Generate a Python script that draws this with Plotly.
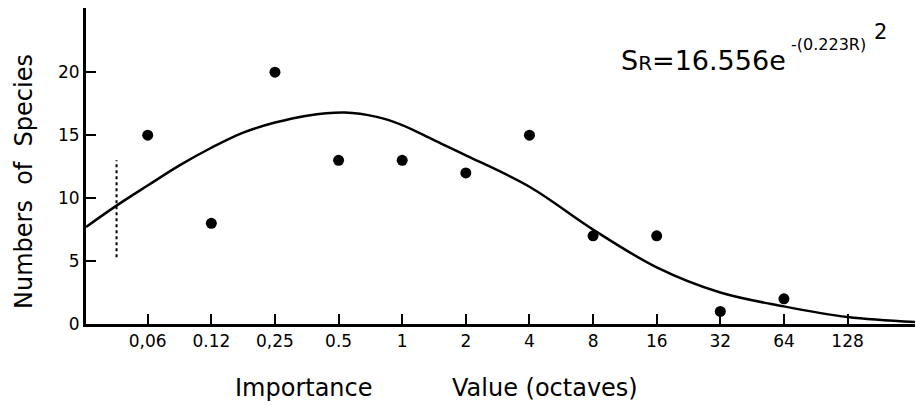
import plotly.graph_objects as go

# ---- data ----
octave_labels = ["0,06", "0.12", "0,25", "0.5", "1", "2", "4", "8", "16", "32", "64", "128"]
species_counts = [15, 8, 20, 13, 13, 12, 15, 7, 7, 1, 2]

# fitted curve (x in octave positions, 0 = "0,06")
curve_x = [-0.97, -0.49, 0, 0.5, 1, 1.5, 2, 2.5, 3.1, 3.6, 4, 4.5, 5, 6, 7, 8, 9, 10, 11, 12.06]
curve_y = [7.7, 9.4, 11.0, 12.6, 14.0, 15.2, 16.0, 16.55, 16.8, 16.45, 15.8, 14.6, 13.4, 10.9, 7.5, 4.5, 2.5, 1.4, 0.55, 0.15]

# vertical dashed marker
dash_x = [-0.49, -0.49]
dash_y = [5.3, 13.0]

y_ticks = [0, 5, 10, 15, 20]

FONT = "DejaVu Sans"
W, H = 916, 405
L, R, T, B = 86, 1, 8, 81
PW, PH = W - L - R, H - T - B


def px(x):
    return (x - L) / PW


def py(y):
    return (H - B - y) / PH


pos = list(range(len(octave_labels)))

fig = go.Figure()
fig.add_trace(go.Scatter(x=curve_x, y=curve_y, mode="lines",
                         line=dict(color="black", width=2.5, shape="spline", smoothing=1.0),
                         hoverinfo="skip", showlegend=False))
fig.add_trace(go.Scatter(x=dash_x, y=dash_y, mode="lines",
                         line=dict(color="black", width=2, dash="3px,3px"),
                         showlegend=False))
fig.add_trace(go.Scatter(x=pos[:len(species_counts)], y=species_counts, mode="markers",
                         marker=dict(color="black", size=11),
                         showlegend=False))

fig.update_xaxes(range=[-0.97, 12.06], tickvals=pos, ticktext=octave_labels,
                 ticks="inside", ticklen=10, tickwidth=2, tickcolor="black",
                 showline=True, linewidth=3, linecolor="black",
                 showgrid=False, zeroline=False,
                 tickfont=dict(family=FONT, size=17, color="black"))
fig.update_yaxes(range=[0, 25.1], tickvals=y_ticks,
                 ticks="inside", ticklen=10, tickwidth=2, tickcolor="black",
                 showline=True, linewidth=3, linecolor="black",
                 showgrid=False, zeroline=False,
                 tickfont=dict(family=FONT, size=17, color="black"))

ann = [
    dict(text="Numbers  of  Species", x=px(24), y=py(182), textangle=-90,
         font=dict(family=FONT, size=24, color="black"), xanchor="center", yanchor="middle"),
    dict(text="Importance", x=px(233), y=py(388),
         font=dict(family=FONT, size=24, color="black"), xanchor="left", yanchor="middle"),
    dict(text="Value (octaves)", x=px(450), y=py(388),
         font=dict(family=FONT, size=24, color="black"), xanchor="left", yanchor="middle"),
    dict(text="S<span style='font-size:20px'>R</span>=16.556e", x=px(619), y=py(60),
         font=dict(family=FONT, size=27, color="black"), xanchor="left", yanchor="middle"),
    dict(text="-(0.223R)", x=px(789), y=py(45),
         font=dict(family=FONT, size=16, color="black"), xanchor="left", yanchor="middle"),
    dict(text="2", x=px(872), y=py(32),
         font=dict(family=FONT, size=21, color="black"), xanchor="left", yanchor="middle"),
]
for a in ann:
    a.update(xref="paper", yref="paper", showarrow=False)

fig.update_layout(width=W, height=H, margin=dict(l=L, r=R, t=T, b=B),
                  paper_bgcolor="white", plot_bgcolor="white",
                  annotations=ann, showlegend=False)

fig.write_html("out.html")
